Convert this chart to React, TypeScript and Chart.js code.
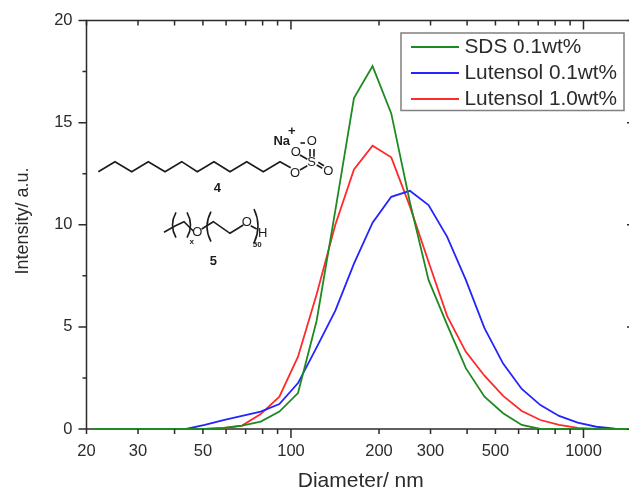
import React, { useEffect, useRef } from "react";
import { Chart, registerables } from "chart.js";

Chart.register(...registerables);

const diameters = [21.04, 24.36, 28.21, 32.67, 37.84, 43.82, 50.75, 58.77, 68.06, 78.82, 91.28, 105.7, 122.4, 141.8, 164.2, 190.1, 220.2, 255.0, 295.3, 342.0, 396.1, 458.7, 531.2, 615.1, 712.4, 825.0, 955.4, 1106, 1281, 1484];
const sds = [0, 0, 0, 0, 0, 0, 0, 0.05, 0.16, 0.36, 0.85, 1.76, 5.3, 10.7, 16.2, 17.77, 15.45, 11.1, 7.3, 5.1, 2.98, 1.58, 0.77, 0.2, 0, 0, 0, 0, 0, 0];
const lutensol01 = [0, 0, 0, 0, 0, 0, 0.2, 0.44, 0.64, 0.85, 1.22, 2.25, 4.0, 5.8, 8.1, 10.1, 11.37, 11.66, 10.96, 9.41, 7.3, 4.94, 3.2, 1.96, 1.17, 0.64, 0.31, 0.11, 0.02, 0];
const lutensol10 = [0, 0, 0, 0, 0, 0, 0, 0.04, 0.17, 0.73, 1.58, 3.54, 6.6, 10.0, 12.71, 13.87, 13.3, 10.9, 8.19, 5.53, 3.78, 2.61, 1.62, 0.88, 0.44, 0.2, 0.05, 0, 0, 0];
const xTickValues = [20, 30, 40, 50, 60, 70, 80, 90, 100, 200, 300, 400, 500, 600, 700, 800, 900, 1000];
const xTickLabels = [20, 30, 50, 100, 200, 300, 500, 1000];
const xLongTicks = [100, 1000];
const seriesNames = ["SDS 0.1wt%", "Lutensol 0.1wt%", "Lutensol 1.0wt%"];
const seriesColors = ["#1f8a22", "#2424ff", "#ff2a2a"];

const FONT = '"Liberation Sans", Arial, sans-serif';
const INK = "#2b2b2b";

const framePlugin = {
  id: "frame",
  beforeDatasetsDraw(chart: any) {
    const { ctx, chartArea: a, scales } = chart;
    const { x, y } = scales;
    ctx.save();
    ctx.strokeStyle = INK;
    ctx.lineWidth = 1.5;
    ctx.strokeRect(a.left, a.top, a.right - a.left, a.bottom - a.top);
    ctx.beginPath();
    for (const t of x.ticks) {
      const px = x.getPixelForValue(t.value);
      const long = xLongTicks.includes(t.value);
      ctx.moveTo(px, a.bottom);
      ctx.lineTo(px, a.bottom + (long ? 9 : 5));
      ctx.moveTo(px, a.top);
      ctx.lineTo(px, a.top + (long ? 9 : 5));
    }
    for (const t of y.ticks) {
      const py = y.getPixelForValue(t.value);
      const long = t.value % 5 === 0;
      ctx.moveTo(a.left, py);
      ctx.lineTo(a.left - (long ? 8 : 4), py);
      ctx.moveTo(a.right, py);
      ctx.lineTo(a.right - (long ? 8 : 4), py);
    }
    ctx.stroke();
    // y axis title
    ctx.translate(23, 221);
    ctx.rotate(-Math.PI / 2);
    ctx.fillStyle = INK;
    ctx.font = `18px ${FONT}`;
    ctx.textAlign = "center";
    ctx.textBaseline = "middle";
    ctx.fillText("Intensity/ a.u.", 0, 0);
    ctx.restore();
  },
};

const legendPlugin = {
  id: "boxLegend",
  afterDatasetsDraw(chart: any) {
    const { ctx } = chart;
    ctx.save();
    ctx.fillStyle = "#ffffff";
    ctx.fillRect(401, 33, 223, 77.5);
    ctx.strokeStyle = "#808080";
    ctx.lineWidth = 1.5;
    ctx.strokeRect(401, 33, 223, 77.5);
    const rows = [47, 73, 99];
    ctx.font = `20.8px ${FONT}`;
    ctx.textBaseline = "middle";
    ctx.textAlign = "left";
    chart.data.datasets.forEach((d: any, i: number) => {
      ctx.strokeStyle = d.borderColor;
      ctx.lineWidth = 1.8;
      ctx.beginPath();
      ctx.moveTo(411, rows[i]);
      ctx.lineTo(459, rows[i]);
      ctx.stroke();
      ctx.fillStyle = INK;
      ctx.fillText(d.label, 464.5, rows[i] + 0.5);
    });
    ctx.restore();
  },
};

function poly(ctx: any, pts: number[][]) {
  ctx.beginPath();
  pts.forEach(([x, y], i) => (i ? ctx.lineTo(x, y) : ctx.moveTo(x, y)));
  ctx.stroke();
}

function paren(ctx: any, x: number, top: number, bottom: number, bow: number) {
  ctx.beginPath();
  ctx.moveTo(x, top);
  ctx.quadraticCurveTo(x + bow, (top + bottom) / 2, x, bottom);
  ctx.stroke();
}

const structuresPlugin = {
  id: "structures",
  afterDatasetsDraw(chart: any) {
    const { ctx } = chart;
    ctx.save();
    ctx.strokeStyle = "#1c1c1c";
    ctx.fillStyle = "#1c1c1c";
    ctx.lineWidth = 1.6;
    // structure 4
    poly(ctx, [[98.3, 171.7], [115, 161.7], [131.7, 171.7], [148.3, 161.7], [165, 171.7], [181.7, 161.7], [197.3, 171.7], [214, 161.7], [230, 171.7], [246.7, 161.7], [263.3, 171.7], [280, 161.7], [290.7, 167.7]]);
    poly(ctx, [[300, 170], [307.3, 165.7]]);
    poly(ctx, [[300, 155], [307.3, 159.3]]);
    poly(ctx, [[310, 149], [310, 156.7]]);
    poly(ctx, [[314, 149], [314, 156.7]]);
    poly(ctx, [[316.7, 165], [322.3, 168.3]]);
    poly(ctx, [[318.3, 162.3], [324, 165.7]]);
    poly(ctx, [[300.5, 143], [305, 143]]);
    // structure 5
    poly(ctx, [[164, 232.3], [175, 226], [184, 221.7], [193.3, 231]]);
    poly(ctx, [[201.7, 229], [213.3, 221.7], [230, 233.3], [243.3, 225]]);
    poly(ctx, [[250.7, 225.7], [256.7, 229]]);
    paren(ctx, 176, 212.3, 237.7, -7);
    paren(ctx, 187, 212.3, 237.7, 7);
    paren(ctx, 211, 211.7, 241.7, -8);
    paren(ctx, 254, 209, 243, 8);
    ctx.textAlign = "center";
    ctx.textBaseline = "middle";
    const label = (s: string, x: number, y: number, size: number, bold = false) => {
      ctx.font = `${bold ? "bold " : ""}${size}px ${FONT}`;
      ctx.fillText(s, x, y);
    };
    label("Na", 281.7, 141.5, 13, true);
    label("+", 291.7, 131, 13, true);
    label("O", 295, 173, 13);
    label("O", 295.7, 152.5, 13);
    label("O", 311.7, 141.5, 13);
    label("S", 311.7, 162.5, 13);
    label("O", 328.3, 171.5, 13);
    label("4", 217.3, 188.5, 13, true);
    label("5", 213.3, 261, 13, true);
    label("O", 197.3, 232, 13);
    label("O", 246.7, 222, 13);
    label("H", 262.7, 233.5, 13);
    label("x", 191.7, 242, 8, true);
    label("50", 257.3, 244.5, 8, true);
    ctx.restore();
  },
};

export default function App() {
  const ref = useRef<HTMLCanvasElement>(null);
  useEffect(() => {
    const values = [sds, lutensol01, lutensol10];
    const chart = new Chart(ref.current as HTMLCanvasElement, {
      type: "line",
      data: {
        datasets: seriesNames.map((label, i) => ({
          label,
          data: diameters.map((x, k) => ({ x, y: values[i][k] })),
          borderColor: seriesColors[i],
          borderWidth: 1.8,
          pointRadius: 0,
          tension: 0,
        })),
      },
      options: {
        animation: false,
        responsive: false,
        layout: { padding: { top: 20.5, right: 25 } },
        plugins: { legend: { display: false }, tooltip: { enabled: false } },
        scales: {
          x: {
            type: "logarithmic",
            min: 20,
            max: 1500,
            grid: { display: false, drawTicks: false },
            border: { display: false },
            afterBuildTicks(s: any) {
              s.ticks = xTickValues.map((value) => ({ value }));
            },
            afterFit(s: any) {
              s.height = 71;
              s.paddingLeft = 0;
              s.paddingRight = 0;
            },
            ticks: {
              autoSkip: false,
              maxRotation: 0,
              padding: 13,
              color: INK,
              font: { family: FONT, size: 16.5 },
              callback: (v: any) => (xTickLabels.includes(Number(v)) ? String(v) : ""),
            },
            title: {
              display: true,
              text: "Diameter/ nm",
              color: INK,
              font: { family: FONT, size: 21 },
              padding: { top: 0, bottom: 6 },
            },
          },
          y: {
            min: 0,
            max: 20,
            grid: { display: false, drawTicks: false },
            border: { display: false },
            afterFit(s: any) {
              s.width = 86.5;
              s.paddingTop = 0;
              s.paddingBottom = 0;
            },
            ticks: {
              stepSize: 2.5,
              padding: 14,
              color: INK,
              font: { family: FONT, size: 16.5 },
              callback: (v: any) => (Number(v) % 5 === 0 ? String(v) : ""),
            },
          },
        },
      },
      plugins: [framePlugin, structuresPlugin, legendPlugin],
    } as any);
    return () => chart.destroy();
  }, []);
  return (
    <div style={{ position: "fixed", left: 0, top: 0, width: 629, height: 489, overflow: "hidden", background: "#fff" }}>
      <canvas ref={ref} width={660} height={500} style={{ display: "block" }} />
    </div>
  );
}
